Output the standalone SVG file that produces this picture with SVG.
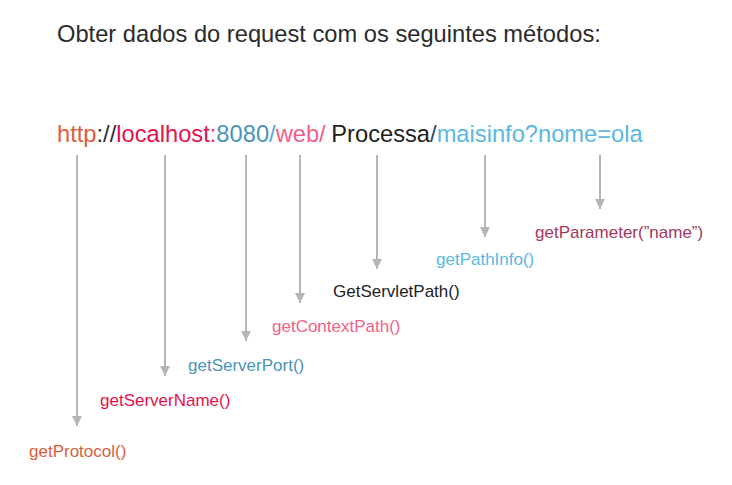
<svg xmlns="http://www.w3.org/2000/svg" width="732" height="485" viewBox="0 0 732 485">
<defs>
<marker id="ah" markerUnits="userSpaceOnUse" markerWidth="12" markerHeight="10" refX="10" refY="5" orient="auto">
<path d="M0,0 L10,5 L0,10 Z" fill="#b5b5b5"/>
</marker>
<style>
text{font-family:"Liberation Sans",Arial,sans-serif}
.t{font-size:23.7px;fill:#2b2b2b}
.u{font-size:23.7px}
.l{font-size:17px}
.c line{stroke:#b5b5b5;stroke-width:2;marker-end:url(#ah)}
</style>
</defs>
<rect width="732" height="485" fill="#ffffff"/>
<text id="title" class="t" x="57" y="42">Obter dados do request com os seguintes métodos:</text>
<g id="url">
<text class="u" x="57" y="142"><tspan fill="#dc5e3e">http</tspan><tspan fill="#2b2b3b">://</tspan><tspan fill="#e6104c">localhost</tspan><tspan fill="#e8366a">:</tspan><tspan fill="#4a93b8">8080</tspan><tspan fill="#5aa8d0">/</tspan><tspan fill="#f2608a">web/</tspan><tspan fill="#222222" dx="-1">&#160;Processa</tspan><tspan fill="#2a4a6a">/</tspan><tspan fill="#5ab8e2">maisinfo?nome=ola</tspan></text>
</g>
<g class="c" id="connectors">
<line x1="77" y1="155" x2="77" y2="426"/>
<line x1="165" y1="155" x2="165" y2="376"/>
<line x1="246" y1="155" x2="246" y2="341"/>
<line x1="300" y1="155" x2="300" y2="303"/>
<line x1="377" y1="155" x2="377" y2="269"/>
<line x1="485" y1="155" x2="485" y2="237"/>
<line x1="600" y1="155" x2="600" y2="209"/>
</g>
<g id="n-protocol"><text class="l" x="29" y="457" fill="#d95e3e">getProtocol()</text></g>
<g id="n-servername"><text class="l" x="100" y="406" fill="#e6104c">getServerName()</text></g>
<g id="n-serverport"><text class="l" x="188" y="371" fill="#4a93b8">getServerPort()</text></g>
<g id="n-contextpath"><text class="l" x="272" y="332" fill="#f2608a">getContextPath()</text></g>
<g id="n-servletpath"><text class="l" x="333" y="297" fill="#222222">GetServletPath()</text></g>
<g id="n-pathinfo"><text class="l" x="436" y="265" fill="#5ab8e2">getPathInfo()</text></g>
<g id="n-parameter"><text class="l" x="535" y="238" fill="#a3385c">getParameter(”name”)</text></g>
</svg>
